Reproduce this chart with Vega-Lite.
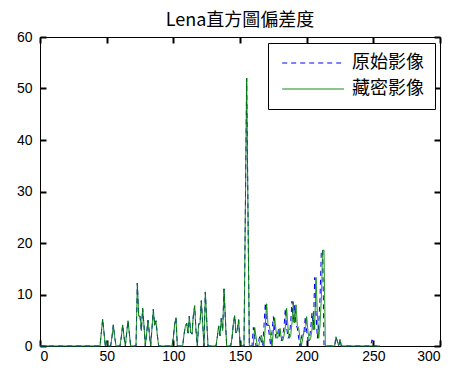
{
  "$schema": "https://vega.github.io/schema/vega-lite/v6.json",
  "autosize": "none",
  "width": 400,
  "height": 309,
  "padding": {"left": 40, "top": 37, "right": 18, "bottom": 26},
  "background": "white",
  "title": {"text": "Lena直方圖偏差度", "font": "Noto Sans CJK TC", "fontSize": 18, "fontWeight": "normal", "color": "black", "offset": 0},
  "data": {"values": [
    {"x":0,"o":0,"s":0},{"x":45,"o":0,"s":0},{"x":46,"o":2.6,"s":2.6},{"x":47,"o":5.2,"s":5.2},{"x":48,"o":2.6,"s":2.6},{"x":49,"o":0,"s":0},{"x":50,"o":1,"s":1},{"x":51,"o":0,"s":0},
    {"x":53,"o":0,"s":0},{"x":54,"o":1.8,"s":1.8},{"x":55,"o":4.1,"s":4.1},{"x":56,"o":1.8,"s":1.8},{"x":57,"o":0,"s":0},
    {"x":60,"o":0,"s":0},{"x":61,"o":1.8,"s":1.8},{"x":62,"o":4.1,"s":4.1},{"x":63,"o":1.8,"s":1.8},{"x":64,"o":0,"s":0},
    {"x":65,"o":2.5,"s":2.5},{"x":66,"o":4.9,"s":4.9},{"x":67,"o":2.5,"s":2.5},{"x":68,"o":0,"s":0},
    {"x":72,"o":0,"s":0},{"x":73,"o":12.2,"s":12.2},{"x":74,"o":5.8,"s":5.8},{"x":75,"o":5.8,"s":5.8},{"x":76,"o":3,"s":3},{"x":77,"o":7.3,"s":7.3},{"x":78,"o":4,"s":4},{"x":79,"o":0,"s":0},
    {"x":80,"o":2.5,"s":2.5},{"x":81,"o":5,"s":5},{"x":82,"o":2.5,"s":2.5},{"x":83,"o":0,"s":0},
    {"x":84,"o":3.5,"s":3.5},{"x":85,"o":7.1,"s":7.1},{"x":86,"o":4,"s":4},{"x":87,"o":4.9,"s":4.9},{"x":88,"o":2.1,"s":2.1},{"x":89,"o":0,"s":0},
    {"x":99,"o":0,"s":0},{"x":100,"o":1.6,"s":1.6},{"x":101,"o":4.2,"s":4.2},{"x":102,"o":5.5,"s":5.5},{"x":103,"o":0,"s":0},
    {"x":107,"o":0,"s":0},{"x":108,"o":2.2,"s":2.2},{"x":109,"o":3.8,"s":3.8},{"x":110,"o":4.4,"s":4.4},{"x":111,"o":2.5,"s":2.5},{"x":112,"o":5.8,"s":5.8},{"x":113,"o":2.6,"s":2.6},
    {"x":114,"o":2.3,"s":2.3},{"x":115,"o":5.9,"s":5.9},{"x":116,"o":7.8,"s":7.8},{"x":117,"o":3,"s":3},{"x":118,"o":0,"s":0},
    {"x":119,"o":4.3,"s":4.3},{"x":120,"o":4.3,"s":4.3},{"x":121,"o":8.8,"s":8.8},{"x":122,"o":4.4,"s":4.4},{"x":123,"o":0,"s":0},
    {"x":124,"o":10.5,"s":10.5},{"x":125,"o":5.2,"s":5.2},{"x":126,"o":0,"s":0},
    {"x":132,"o":0,"s":0},{"x":133,"o":1.8,"s":1.8},{"x":134,"o":3.9,"s":3.9},{"x":135,"o":2,"s":2},{"x":136,"o":5.4,"s":5.4},{"x":137,"o":3,"s":3},{"x":138,"o":11.1,"s":11.1},{"x":139,"o":5.4,"s":5.4},{"x":140,"o":0,"s":0},
    {"x":143,"o":0,"s":0},{"x":144,"o":1.5,"s":1.5},{"x":145,"o":4.3,"s":4.3},{"x":146,"o":5.9,"s":5.9},{"x":147,"o":2.5,"s":2.5},{"x":148,"o":3,"s":3},{"x":149,"o":5.1,"s":5.1},{"x":150,"o":0.6,"s":0.6},{"x":151,"o":0,"s":0},
    {"x":153,"o":0,"s":0},{"x":154,"o":26,"s":26},{"x":155,"o":52,"s":52},{"x":156,"o":26,"s":26},{"x":157,"o":0,"s":0},
    {"x":159,"o":0,"s":0},{"x":160,"o":3.6,"s":0},{"x":161,"o":1.8,"s":3.6},{"x":162,"o":0,"s":1.8},{"x":163,"o":0,"s":0},
    {"x":164,"o":1,"s":0},{"x":165,"o":2.1,"s":1},{"x":166,"o":1,"s":2.1},{"x":167,"o":0,"s":1},{"x":168,"o":4,"s":0},
    {"x":169,"o":8.4,"s":4},{"x":170,"o":4,"s":8.2},{"x":171,"o":4.1,"s":4},{"x":172,"o":2,"s":4},{"x":173,"o":0,"s":2},
    {"x":174,"o":2.8,"s":0},{"x":175,"o":5.7,"s":2.8},{"x":176,"o":3,"s":5.5},{"x":177,"o":1.5,"s":3},{"x":178,"o":2,"s":1.5},
    {"x":179,"o":3.4,"s":2},{"x":180,"o":1.5,"s":3.4},{"x":181,"o":1,"s":1.5},{"x":182,"o":2,"s":1},{"x":183,"o":3.6,"s":2},
    {"x":184,"o":7.3,"s":3.6},{"x":185,"o":3.6,"s":7.3},{"x":186,"o":1.5,"s":3.6},{"x":187,"o":2,"s":1.5},{"x":188,"o":4.5,"s":2},
    {"x":189,"o":8.7,"s":4.5},{"x":190,"o":4.5,"s":8.6},{"x":191,"o":8,"s":4.5},{"x":192,"o":4,"s":8},{"x":193,"o":3.5,"s":4},
    {"x":194,"o":1.5,"s":3.5},{"x":195,"o":0,"s":1.5},{"x":196,"o":1.5,"s":0},{"x":197,"o":2.8,"s":1.5},{"x":198,"o":2.8,"s":2.8},
    {"x":199,"o":5.7,"s":2.8},{"x":200,"o":2.8,"s":5.7},{"x":201,"o":1,"s":2.8},{"x":202,"o":1.5,"s":1},{"x":203,"o":3.2,"s":1.5},
    {"x":204,"o":6.5,"s":3.2},{"x":205,"o":3.2,"s":6.5},{"x":206,"o":13.3,"s":3.2},{"x":207,"o":6.5,"s":13.3},{"x":208,"o":1.5,"s":6.5},
    {"x":209,"o":4,"s":1.5},{"x":210,"o":9.2,"s":4},{"x":211,"o":18.6,"s":9.2},{"x":212,"o":18.6,"s":18.6},{"x":213,"o":0,"s":18.6},{"x":214,"o":0,"s":0},
    {"x":221,"o":0,"s":0},{"x":222,"o":1.8,"s":1.8},{"x":223,"o":0.9,"s":0.9},{"x":224,"o":0,"s":0},{"x":225,"o":1.3,"s":1.3},{"x":226,"o":0,"s":0},
    {"x":248,"o":0,"s":0},{"x":249,"o":1.2,"s":0},{"x":250,"o":0,"s":0},{"x":255,"o":0,"s":0}
  ]},
  "transform": [{"fold": ["o", "s"], "as": ["k", "v"]}],
  "layer": [
    {
      "mark": {"type": "line", "strokeWidth": 1},
      "encoding": {
        "x": {"field": "x", "type": "quantitative", "scale": {"domain": [0, 300], "nice": false},
              "axis": {"orient": "bottom", "title": null, "values": [0, 50, 100, 150, 200, 250, 300], "ticks": false, "labelPadding": 3}},
        "y": {"field": "v", "type": "quantitative", "scale": {"domain": [0, 60], "nice": false},
              "axis": {"orient": "left", "title": null, "values": [0, 10, 20, 30, 40, 50, 60], "ticks": false, "labelPadding": 8}},
        "color": {"field": "k", "type": "nominal", "scale": {"domain": ["o", "s"], "range": ["#0000ff", "#008000"]},
          "legend": {"title": null, "orient": "none", "legendX": 228, "legendY": 6, "direction": "vertical",
            "labelExpr": "datum.label == 'o' ? '原始影像' : '藏密影像'",
            "symbolType": "M-9.3,0H1", "symbolSize": 144, "symbolStrokeWidth": 1, "symbolOffset": 50, "labelOffset": 5}},
        "strokeDash": {"field": "k", "type": "nominal", "scale": {"domain": ["o", "s"], "range": [[5, 4], [1, 0]]},
          "legend": {"title": null, "orient": "none", "legendX": 228, "legendY": 6, "direction": "vertical",
            "labelExpr": "datum.label == 'o' ? '原始影像' : '藏密影像'",
            "symbolType": "M-9.3,0H1", "symbolSize": 144, "symbolStrokeWidth": 1, "symbolOffset": 50, "labelOffset": 5}}
      }
    },
    {
      "mark": {"type": "point", "opacity": 0},
      "encoding": {
        "x": {"datum": 0, "type": "quantitative", "axis": {"orient": "top", "offset": -309, "title": null, "labels": false, "domain": false, "tickSize": 6, "tickWidth": 2, "tickColor": "#000000", "values": [0, 50, 100, 150, 200, 250, 300]}},
        "y": {"datum": 0, "type": "quantitative", "axis": {"orient": "right", "offset": -400, "title": null, "labels": false, "domain": false, "tickSize": 6, "tickWidth": 2, "tickColor": "#000000", "values": [0, 10, 20, 30, 40, 50, 60]}}
      }
    },
    {
      "mark": {"type": "point", "opacity": 0},
      "encoding": {
        "x": {"datum": 0, "type": "quantitative", "axis": {"orient": "bottom", "offset": -309, "title": null, "labels": false, "domain": false, "tickSize": 6, "tickWidth": 2, "tickColor": "#000000", "values": [0, 50, 100, 150, 200, 250, 300]}},
        "y": {"datum": 0, "type": "quantitative", "axis": {"orient": "left", "offset": -400, "title": null, "labels": false, "domain": false, "tickSize": 6, "tickWidth": 2, "tickColor": "#000000", "values": [0, 10, 20, 30, 40, 50, 60]}}
      }
    }
  ],
  "resolve": {"axis": {"x": "independent", "y": "independent"}},
  "config": {
    "view": {"stroke": "black", "strokeWidth": 1},
    "axis": {"domainColor": "black", "domainWidth": 1, "grid": false, "zindex": 1,
             "labelColor": "black", "labelFont": "Liberation Sans", "labelFontSize": 14},
    "legend": {"fillColor": "white", "strokeColor": "black", "padding": 11, "rowPadding": 8,
               "labelFont": "Noto Sans CJK TC", "labelFontSize": 18, "labelColor": "black", "cornerRadius": 0}
  }
}
